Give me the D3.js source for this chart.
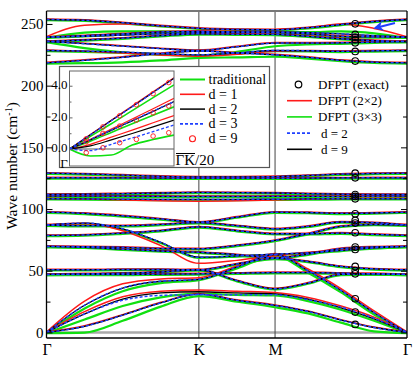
<!DOCTYPE html>
<html>
<head>
<meta charset="utf-8">
<script src="https://cdnjs.cloudflare.com/ajax/libs/d3/7.8.5/d3.min.js"></script>
<style>
body { margin: 0; background: #fff; }
</style>
</head>
<body>
<svg width="415" height="366"></svg>
<script>
const canWidth = 415;
const canHeight = 366;
const plotLeft = 46.5, plotRight = 407, plotTop = 11, plotBottom = 338;
const serif = '"Liberation Serif", "Times New Roman", serif';

// positions along the path, Gamma-K = 1
const kPath = [0, 0.25, 0.5, 0.75, 1, 1.25, 1.5, 1.7165, 1.933, 2.15, 2.366];
const kLabels = ["Γ", "K", "M", "Γ"];
const kLabelPos = [0, 1, 1.5, 2.366];
const yTicks = [0, 50, 100, 150, 200, 250];
const yMinorTicks = [25, 75, 125, 175, 225];

// d = 9 (black) bands, one row per band, values at kPath
const bandsD9 = [
  [253.6, 253, 251, 248.5, 246.5, 245.5, 245.3, 247, 249.5, 252, 253.6],
  [239.3, 240, 241, 242, 243, 243.3, 243.5, 243, 242, 240.5, 239.3],
  [239.3, 240.5, 242, 243.5, 244, 243.5, 243, 242, 240, 239.5, 239.3],
  [235.8, 237, 238.5, 240.5, 242, 241.7, 241.5, 240, 238, 236.5, 235.8],
  [235.8, 234, 232, 230, 228.5, 231.5, 234.5, 234.5, 234.7, 235.3, 235.8],
  [228.5, 228, 227.2, 226, 225, 226.5, 228.5, 228.3, 227.8, 228.2, 228.5],
  [218.5, 220.5, 223, 226, 228, 226.5, 225, 223, 220.5, 219, 218.5],
  [129.1, 128.5, 127.5, 126.5, 126, 126, 126.3, 127.2, 128.3, 128.8, 129.1],
  [125.3, 125.3, 125.2, 125.1, 125, 125, 125, 125.1, 125.2, 125.3, 125.3],
  [111.8, 112, 112.5, 113, 113.5, 113.3, 113, 112.5, 112, 111.8, 111.8],
  [110.5, 110.5, 110.4, 110.3, 110.2, 110.2, 110.3, 110.3, 110.2, 110.4, 110.5],
  [108.3, 108.2, 108, 107.8, 107.8, 107.8, 108, 108.2, 108.3, 108.3, 108.3],
  [97.5, 96.5, 94.5, 92, 89.4, 93.5, 97.5, 97.2, 96.5, 96.8, 97.5],
  [87, 88.6, 84, 73, 61, 62, 63.5, 64.5, 66.5, 68.5, 69.7],
  [87, 86.5, 86.5, 87.5, 89, 86.5, 84, 86, 89.5, 89, 87],
  [78.6, 79, 80.5, 82.5, 85.5, 82.5, 80, 80, 80.5, 79.5, 78.6],
  [69.7, 69.5, 69, 68, 67.8, 70.5, 74.6, 80, 86, 87.5, 87],
  [69.7, 69, 67.5, 66, 65, 63, 60.5, 63.5, 68, 69.3, 69.7],
  [50.8, 50.8, 51, 51, 50.8, 55.5, 60, 57.5, 53.5, 51.5, 50.8],
  [47, 47.5, 48, 49, 50.8, 42, 35.4, 40, 47, 47.5, 47],
  [47, 47, 47, 47.3, 47.5, 48, 48.5, 48.5, 48, 47.5, 47],
  [0, 22, 36, 41.5, 43, 53, 63, 50, 34, 16, 0],
  [0, 15, 27, 32, 33, 32, 31.3, 27, 20, 11, 0],
  [0, 5, 14, 24, 31, 26, 21.9, 17, 10, 4, 0]
];

// bands where the other calculations differ from d = 9: [band index, values]
const dfpt2x2Changes = [
  [1, [239.3, 248.5, 249.5, 248, 246, 245, 245, 246.5, 249.5, 246, 239.3]],
  [5, [228.5, 227.5, 226, 224.5, 223.5, 225, 227.5, 228, 227.8, 228.2, 228.5]],
  [11, [108.3, 107.8, 107, 106.3, 106, 106.3, 107, 107.8, 108.2, 108.3, 108.3]],
  [13, [87, 88, 82, 70, 55.6, 58, 62, 64.5, 66.5, 68.5, 69.7]],
  [21, [0, 25, 39, 43, 44, 53.5, 63.5, 51, 35, 17, 0]],
  [22, [0, 16.5, 28.5, 33, 34, 33, 32, 28, 21, 12, 0]]
];
const dfpt3x3Changes = [
  [1, [239.3, 243.5, 244.5, 244.5, 244, 244, 244, 244, 244.5, 243, 239.3]],
  [4, [235.8, 231, 227.5, 225.5, 225, 228, 232.5, 234, 234.5, 235.2, 235.8]],
  [6, [218.5, 218.8, 219.5, 221, 223, 223.5, 224, 222.5, 220.5, 219, 218.5]],
  [21, [0, 20, 34, 40.5, 43, 52.5, 62.5, 49, 33, 15, 0]],
  [22, [0, 11, 22, 29, 32, 31, 30.5, 26, 19, 10, 0]],
  [23, [0, 0.5, 10, 21.5, 30, 25.5, 21, 16, 8.5, 1.5, 0]]
];
const d2Changes = [
  [22, [0, 15, 26, 30, 30.5, 30.5, 30.5, 26.5, 20.5, 11.5, 0]]
];

// DFPT (exact) points
const exactQ = 2.026;
const exactFreqs = [250.1, 241.5, 239.3, 237.2, 234.7, 227.7, 219.9,
  129.1, 125.3, 111.8, 110.2, 108.3,
  96.2, 90.8, 88.6, 80.8, 69.2, 67.3, 53.5, 50.2, 47.5, 27.3, 16.5, 6.5];

// inset: acoustic branches near Gamma, x in units of GK/20
const insetQ = [0, 0.2, 0.4, 0.6, 0.8, 1];
const tradBranches = [[0, 0.8, 1.6, 2.43, 3.25, 4.05], [0, 0.5, 1.05, 1.6, 2.13, 2.67], [0, -0.44, -0.38, 0.25, 0.6, 0.88]];
const insetD1 = [[0, 0.92, 1.82, 2.72, 3.62, 4.5], [0, 0.62, 1.26, 1.9, 2.55, 3.2], [0, 0.3, 0.75, 1.2, 1.66, 2.12]];
const insetD2 = [[0, 0.9, 1.8, 2.68, 3.58, 4.47], [0, 0.58, 1.18, 1.78, 2.38, 3.0], [0, 0.2, 0.58, 0.98, 1.4, 1.83]];
const insetD3 = [[0, 0.9, 1.79, 2.68, 3.57, 4.46], [0, 0.6, 1.2, 1.8, 2.4, 3.0], [0, -0.1, 0.3, 0.7, 1.1, 1.52]];
const insetD9Q = [0.16, 0.32, 0.48, 0.64, 0.8, 0.95];
const insetD9 = [[0.65, 1.4, 2.1, 2.8, 3.5, 4.2], [0.46, 0.99, 1.45, 1.83, 2.29, 2.72], [-0.23, 0.08, 0.4, 0.61, 0.82, 1.03]];
const insetTicks = [0, 2, 4];
const insetMinor = [1, 3];

const mainLegendLabels = ["DFPT (exact)", "DFPT (2×2)", "DFPT (3×3)", "d = 2", "d = 9"];
const insetLegendLabels = ["traditional", "d = 1", "d = 2", "d = 3", "d = 9"];

const red = "#ff1a1a", green = "#10e010", blue = "#2040ff";

const xs = d3.scaleLinear().domain([0, 2.366]).range([plotLeft, plotRight]);
const ys = d3.scaleLinear().domain([-4.5, 260.5]).range([plotBottom, plotTop]);

function withChanges(changes) {
    const out = bandsD9.map(b => b.slice());
    changes.forEach(c => { out[c[0]] = c[1]; });
    return out;
}

const svg = d3.select('svg').attr('font-family', serif);
const defs = svg.append('defs');
defs.append('clipPath').attr('id', 'plotClip')
    .append('rect').attr('x', plotLeft).attr('y', plotTop)
    .attr('width', plotRight - plotLeft).attr('height', plotBottom - plotTop);
defs.append('marker').attr('id', 'arrowHead')
    .attr('viewBox', '0 0 10 10').attr('refX', 8).attr('refY', 5)
    .attr('markerWidth', 5).attr('markerHeight', 5).attr('orient', 'auto')
    .append('path').attr('d', 'M0,0 L10,5 L0,10 L3,5 Z').attr('fill', blue);

const plot = svg.append('g').attr('clip-path', 'url(#plotClip)');

// zero line
plot.append('line')
    .attr('x1', plotLeft).attr('x2', plotRight)
    .attr('y1', ys(0)).attr('y2', ys(0))
    .attr('stroke', '#aaa').attr('stroke-width', 2.5);

// K and M lines
plot.selectAll('.kline')
    .data([1, 1.5])
    .enter()
    .append('line')
    .attr('x1', d => xs(d)).attr('x2', d => xs(d))
    .attr('y1', plotTop).attr('y2', plotBottom)
    .attr('stroke', '#444').attr('stroke-width', 1);

const bandLine = d3.line()
    .x((d, i) => xs(kPath[i]))
    .y(d => ys(d))
    .curve(d3.curveMonotoneX);

const series = [
    { bands: withChanges(dfpt3x3Changes), color: green, width: 2.2, dash: null, dy: 0.7 },
    { bands: withChanges(dfpt2x2Changes), color: red, width: 1.5, dash: null, dy: -0.5 },
    { bands: bandsD9, color: "#000", width: 1.3, dash: null, dy: 0 },
    { bands: withChanges(d2Changes), color: blue, width: 1.5, dash: "3,2", dy: 0 }
];

series.forEach(s => {
    plot.append('g')
        .attr('transform', `translate(0,${s.dy})`)
        .selectAll('path')
        .data(s.bands)
        .enter()
        .append('path')
        .attr('d', bandLine)
        .attr('fill', 'none')
        .attr('stroke', s.color)
        .attr('stroke-width', s.width)
        .attr('stroke-dasharray', s.dash);
});

plot.selectAll('.exact')
    .data(exactFreqs)
    .enter()
    .append('circle')
    .attr('cx', xs(exactQ))
    .attr('cy', d => ys(d))
    .attr('r', 3.3)
    .attr('fill', 'none')
    .attr('stroke', '#000')
    .attr('stroke-width', 1.1);

// arrow
svg.append('line')
    .attr('x1', xs(2.287)).attr('y1', ys(250.8))
    .attr('x2', xs(2.158)).attr('y2', ys(246.8))
    .attr('stroke', blue).attr('stroke-width', 2)
    .attr('marker-end', 'url(#arrowHead)');

// ---------- inset ----------
const inset = svg.append('g');
inset.append('rect')
    .attr('x', 59.5).attr('y', 66.5).attr('width', 210).attr('height', 101)
    .attr('fill', '#fff').attr('stroke', '#555').attr('stroke-width', 1.2);

const ix = d3.scaleLinear().domain([0, 1]).range([69.5, 174]);
const iy = d3.scaleLinear().domain([-1.07, 4.93]).range([166, 71]);

defs.append('clipPath').attr('id', 'insetClip')
    .append('rect').attr('x', 69.5).attr('y', 71).attr('width', 104.5).attr('height', 95);

const insetPlot = inset.append('g').attr('clip-path', 'url(#insetClip)');
insetPlot.append('line')
    .attr('x1', ix(0)).attr('x2', ix(1))
    .attr('y1', iy(0)).attr('y2', iy(0))
    .attr('stroke', '#aaa').attr('stroke-width', 2);

const insetLine = d3.line()
    .x((d, i) => ix(insetQ[i]))
    .y(d => iy(d))
    .curve(d3.curveMonotoneX);

const insetSeries = [
    { branches: tradBranches, color: green, width: 1.6, dash: null },
    { branches: insetD1, color: red, width: 1.2, dash: null },
    { branches: insetD2, color: "#000", width: 1.1, dash: null },
    { branches: insetD3, color: blue, width: 1.3, dash: "3,2" }
];
insetSeries.forEach(s => {
    insetPlot.append('g')
        .selectAll('path')
        .data(s.branches)
        .enter()
        .append('path')
        .attr('d', insetLine)
        .attr('fill', 'none')
        .attr('stroke', s.color)
        .attr('stroke-width', s.width)
        .attr('stroke-dasharray', s.dash);
});
insetD9.forEach(branch => {
    insetPlot.append('g')
        .selectAll('circle')
        .data(branch)
        .enter()
        .append('circle')
        .attr('cx', (d, i) => ix(insetD9Q[i]))
        .attr('cy', d => iy(d))
        .attr('r', 2.3)
        .attr('fill', 'none')
        .attr('stroke', red)
        .attr('stroke-width', 0.9);
});

inset.append('rect')
    .attr('x', 69.5).attr('y', 71).attr('width', 104.5).attr('height', 95)
    .attr('fill', 'none').attr('stroke', '#666').attr('stroke-width', 1);

const iyAxis = d3.axisLeft(iy).tickValues(insetTicks).tickSize(-3).tickPadding(2);
inset.append('g').attr('transform', 'translate(69.5,0)').call(iyAxis)
    .call(g => g.select('.domain').remove())
    .call(g => g.selectAll('line').attr('stroke', '#666'))
    .call(g => g.selectAll('text').attr('dy', '0.2em'))
    .attr('font-family', serif).attr('font-size', 13);
inset.append('g').attr('transform', 'translate(69.5,0)')
    .call(d3.axisLeft(iy).tickValues(insetMinor).tickSize(-2).tickFormat(''))
    .call(g => g.select('.domain').remove())
    .call(g => g.selectAll('line').attr('stroke', '#666'));

inset.append('text').attr('x', 64).attr('y', 167.5)
    .attr('text-anchor', 'middle').attr('font-size', 13).text('Γ');
inset.append('text').attr('x', 175.5).attr('y', 165)
    .attr('font-size', 15).text('ΓK/20');
inset.append('line').attr('x1', 176).attr('x2', 195).attr('y1', 153.5).attr('y2', 153.5)
    .attr('stroke', '#000').attr('stroke-width', 1);

// inset legend
const insetLegend = inset.append('g');
insetLegend.selectAll('text')
    .data(insetLegendLabels)
    .enter()
    .append('text')
    .attr('x', 208.5)
    .attr('y', (d, i) => 84 + i * 14.8)
    .attr('font-size', 14)
    .text(d => d);
insetLegend.selectAll('line')
    .data(insetSeries)
    .enter()
    .append('line')
    .attr('x1', 180).attr('x2', 205)
    .attr('y1', (d, i) => 79.5 + i * 14.8).attr('y2', (d, i) => 79.5 + i * 14.8)
    .attr('stroke', d => d.color)
    .attr('stroke-width', d => d.width + 0.4)
    .attr('stroke-dasharray', d => d.dash);
insetLegend.append('circle')
    .attr('cx', 192.5).attr('cy', 79.5 + 4 * 14.8).attr('r', 3)
    .attr('fill', 'none').attr('stroke', red).attr('stroke-width', 1.1);

// ---------- main legend ----------
const legend = svg.append('g');
const legendStyles = [
    { color: "#000", dash: null, circle: true },
    { color: red, dash: null },
    { color: green, dash: null },
    { color: blue, dash: "3,2" },
    { color: "#000", dash: null }
];
legend.selectAll('text')
    .data(mainLegendLabels)
    .enter()
    .append('text')
    .attr('x', (d, i) => i < 3 ? 318 : 321)
    .attr('y', (d, i) => 89 + i * 16.2)
    .attr('font-size', 13)
    .text(d => d);
legend.selectAll('line')
    .data(legendStyles.slice(1))
    .enter()
    .append('line')
    .attr('x1', 287).attr('x2', 312)
    .attr('y1', (d, i) => 84.5 + (i + 1) * 16.2).attr('y2', (d, i) => 84.5 + (i + 1) * 16.2)
    .attr('stroke', d => d.color).attr('stroke-width', 1.6)
    .attr('stroke-dasharray', d => d.dash);
legend.append('circle')
    .attr('cx', 298.5).attr('cy', 84.5).attr('r', 3.3)
    .attr('fill', 'none').attr('stroke', '#000').attr('stroke-width', 1.2);

// ---------- frame and axes ----------
svg.append('line').attr('x1', plotLeft).attr('x2', plotRight).attr('y1', plotTop).attr('y2', plotTop)
    .attr('stroke', '#777').attr('stroke-width', 2.2);
svg.append('line').attr('x1', plotLeft).attr('x2', plotRight).attr('y1', plotBottom).attr('y2', plotBottom)
    .attr('stroke', '#000').attr('stroke-width', 1.3);
svg.append('line').attr('x1', plotLeft).attr('x2', plotLeft).attr('y1', plotTop).attr('y2', plotBottom)
    .attr('stroke', '#000').attr('stroke-width', 1.3);
svg.append('line').attr('x1', plotRight).attr('x2', plotRight).attr('y1', plotTop).attr('y2', plotBottom)
    .attr('stroke', '#000').attr('stroke-width', 1.3);

const ya = d3.axisLeft(ys).tickValues(yTicks).tickSize(-6).tickPadding(3);
svg.append('g').attr('transform', `translate(${plotLeft},0)`).call(ya)
    .call(g => g.select('.domain').remove())
    .attr('font-family', serif).attr('font-size', 15);
svg.append('g').attr('transform', `translate(${plotLeft},0)`)
    .call(d3.axisLeft(ys).tickValues(yMinorTicks).tickSize(-4).tickFormat(''))
    .call(g => g.select('.domain').remove());
svg.append('g').attr('transform', `translate(${plotRight},0)`)
    .call(d3.axisRight(ys).tickValues(yTicks).tickSize(-6).tickFormat(''))
    .call(g => g.select('.domain').remove());
svg.append('g').attr('transform', `translate(${plotRight},0)`)
    .call(d3.axisRight(ys).tickValues(yMinorTicks).tickSize(-4).tickFormat(''))
    .call(g => g.select('.domain').remove());

const xa = d3.axisBottom(xs).tickValues(kLabelPos)
    .tickFormat((d, i) => kLabels[i]).tickSize(0).tickPadding(6);
svg.append('g').attr('transform', `translate(0,${plotBottom})`).call(xa)
    .call(g => g.select('.domain').remove())
    .attr('font-family', serif).attr('font-size', 16);

const yTitle = svg.append('text')
    .attr('transform', 'rotate(-90)')
    .attr('x', -166).attr('y', 16.5)
    .attr('text-anchor', 'middle')
    .attr('font-family', serif)
    .attr('font-size', 15.5);
yTitle.append('tspan').text('Wave number (cm');
yTitle.append('tspan').attr('dy', -5).attr('font-size', 10).text('-1');
yTitle.append('tspan').attr('dy', 5).text(')');
</script>
</body>
</html>
